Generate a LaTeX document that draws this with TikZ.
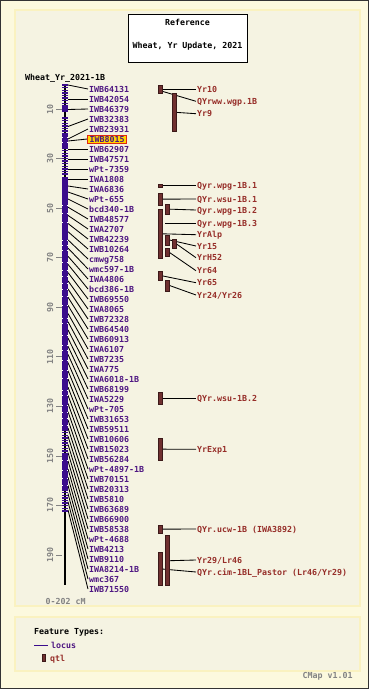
\documentclass[tikz,border=0pt]{standalone}
\usepackage{fontspec}
\newfontfamily\cmapfont{DejaVu Sans Mono Bold}
\definecolor{outerbg}{RGB}{252,249,222}
\definecolor{panelbg}{RGB}{245,243,226}
\definecolor{panelline}{RGB}{250,242,192}
\definecolor{locusbar}{RGB}{58,12,140}
\definecolor{locustext}{RGB}{78,22,130}
\definecolor{qtlfill}{RGB}{112,48,48}
\definecolor{qtlline}{RGB}{60,25,25}
\definecolor{qtltext}{RGB}{150,45,40}
\definecolor{axisgray}{RGB}{130,130,130}
\definecolor{hlfill}{RGB}{255,214,0}
\definecolor{hlline}{RGB}{225,40,20}
\pgfdeclarelayer{background}
\pgfdeclarelayer{links}
\pgfsetlayers{background,links,main}
\tikzset{
  cmap/.style={font=\cmapfont\fontsize{8.3}{9}\selectfont, inner sep=0pt, text height=6pt, text depth=0pt},
  locuslab/.style={cmap, text=locustext, anchor=west, inner xsep=1pt},
  qtllab/.style={cmap, text=qtltext, anchor=west, inner xsep=1pt},
  plainlab/.style={cmap, text=black, anchor=west},
  graylab/.style={cmap, text=axisgray},
  qtlbar/.style={rectangle, fill=qtlfill, draw=qtlline, line width=0.5pt, inner sep=0pt, minimum width=4pt},
  conn/.style={black, line width=0.85pt},
  panel/.style={fill=panelbg, draw=panelline, line width=2pt},
  ltick/.style={locusbar, line width=1.4pt},
  notch/.style={white, line width=0.9pt},
  axtick/.style={axisgray, line width=0.8pt}
}
\begin{document}
\begin{tikzpicture}[x=1pt,y=-1pt]
\useasboundingbox (0,0) rectangle (369,689);
\begin{pgfonlayer}{background}
  \fill[outerbg] (0,0) rectangle (369,689);
  \draw[black!80, line width=1pt] (0.5,0.5) rectangle (368.5,688.5);
  \draw[panel] (15,10) rectangle (360,606);
  \draw[panel] (15,617) rectangle (360,671);
\end{pgfonlayer}

% title
\node[draw=black, fill=white, line width=0.8pt, minimum width=119pt, minimum height=48pt, inner sep=0pt] (titlebox) at (187.5,38) {};
\node[cmap] (title1) at (187.5,22) {Reference};
\node[cmap] (title2) at (187.5,45.5) {Wheat, Yr Update, 2021};
\node[plainlab] (mapname) at (25,77.3) {Wheat\_Yr\_2021-1B};

% axis ticks
\foreach \cm in {10,30,...,190} {
  \pgfmathsetmacro{\ty}{84.5+2.476*\cm}
  \draw[axtick] (56,\ty) -- (62,\ty);
  \node[graylab, rotate=90] (tick\cm) at (50,\ty) {\cm};
}
\node[graylab, anchor=west] (range) at (45.5,601.7) {0-202 cM};

% chromosome backbone
\draw[black, line width=2pt] (65,84.5) -- (65,585);
% dense loci blocks
\fill[locusbar] (62,104.5) rectangle (68,112);
\fill[locusbar] (62,133) rectangle (68,148);
\fill[locusbar] (62,176.5) rectangle (68,430);
\fill[locusbar] (62,453) rectangle (68,490);
\foreach \y in {85,87.6,...,103.5} {\draw[ltick] (62,\y) -- (68,\y);}
\foreach \y in {118,120.6,...,133.5} {\draw[ltick] (62,\y) -- (68,\y);}
\foreach \y in {148,150.6,...,176} {\draw[ltick] (62,\y) -- (68,\y);}
\foreach \y in {430,432.6,...,453} {\draw[ltick] (62,\y) -- (68,\y);}
\foreach \y in {490,492.6,...,512} {\draw[ltick] (62,\y) -- (68,\y);}
\foreach \y in {137,142,205,213,222,240,245,250,262,270,276,283,289,296,305,318,323,335,345,350,360,370,378,390,395,405,412,418,425,460,470,478,485} {
  \draw[notch] (62,\y) -- (63.3,\y);
  \draw[notch] (66.7,\y) -- (68,\y);
}

% locus labels
\foreach \nm [count=\i] in {IWB64131,IWB42054,IWB46379,IWB32383,IWB23931,IWB8015,IWB62907,IWB47571,wPt-7359,IWA1808,IWA6836,wPt-655,bcd340-1B,IWB48577,IWA2707,IWB42239,IWB10264,cmwg758,wmc597-1B,IWA4806,bcd386-1B,IWB69550,IWA8065,IWB72328,IWB64540,IWB60913,IWA6107,IWB7235,IWA775,IWA6018-1B,IWB68199,IWA5229,wPt-705,IWB31653,IWB59511,IWB10606,IWB15023,IWB56284,wPt-4897-1B,IWB70151,IWB20313,IWB5810,IWB63689,IWB66900,IWB58538,wPt-4688,IWB4213,IWB9110,IWA8214-1B,wmc367,IWB71550} {
  \ifnum\i=6
    \node[locuslab, fill=hlfill, draw=hlline, line width=0.7pt, inner xsep=2pt, inner ysep=1pt] (lab\i) at (87.3,79+10*\i) {\nm};
  \else
    \node[locuslab] (lab\i) at (88,79+10*\i) {\nm};
  \fi
}
% locus positions on the bar
\foreach \ly [count=\i] in {85,99,109.5,126.5,139,141,149,159,169,179,186,192,199,207.2,215.4,223.5,231.7,239.9,248.1,256.3,264.4,272.6,280.8,289.0,297.2,305.3,313.5,321.7,329.9,338.1,346.2,354.4,362.6,370.8,379.0,387.1,395.3,403.5,411.7,419.9,428.0,436.2,444.4,452.6,460.8,468.9,477.1,485.3,493.5,501.7,510} {
  \coordinate (lc\i) at (68,\ly);
}
\begin{pgfonlayer}{links}
\foreach \i in {1,...,51} {\draw[conn] (lc\i) -- (lab\i.west);}
\end{pgfonlayer}

% QTL bars
\node[qtlbar, minimum height=8pt] (b1) at (160,89) {};
\node[qtlbar, minimum height=38.7pt] (b3) at (174,112.35) {};
\node[qtlbar, minimum height=3.4pt] (b4) at (160,185.5) {};
\node[qtlbar, minimum height=11.7pt] (b5) at (160,199.15) {};
\node[qtlbar, minimum height=10.3pt] (b6) at (167.3,209.15) {};
\node[qtlbar, minimum height=49pt] (b8) at (160,233.8) {};
\node[qtlbar, minimum height=10pt] (b9) at (167.3,240) {};
\node[qtlbar, minimum height=9pt] (b10) at (174,243.8) {};
\node[qtlbar, minimum height=8.4pt] (b11) at (167.3,252.5) {};
\node[qtlbar, minimum height=9.7pt] (b12) at (160,275.85) {};
\node[qtlbar, minimum height=11pt] (b13) at (167.3,285.5) {};
\node[qtlbar, minimum height=12pt] (b14) at (160,398.3) {};
\node[qtlbar, minimum height=21.7pt] (b15) at (160,449.15) {};
\node[qtlbar, minimum height=8.3pt] (b16) at (160,529.15) {};
\node[qtlbar, minimum height=50pt] (b17) at (167.3,560.7) {};
\node[qtlbar, minimum height=33.4pt] (b18) at (160,569) {};
\coordinate (q2) at (163,91.5);
\coordinate (q7) at (165,223.3);

% QTL labels
\node[qtllab] (t1) at (196,89) {Yr10};
\node[qtllab] (t2) at (196,101.3) {QYrww.wgp.1B};
\node[qtllab] (t3) at (196,113.7) {Yr9};
\node[qtllab] (t4) at (196,185.5) {Qyr.wpg-1B.1};
\node[qtllab] (t5) at (196,199) {QYr.wsu-1B.1};
\node[qtllab] (t6) at (196,210) {Qyr.wpg-1B.2};
\node[qtllab] (t7) at (196,223.3) {Qyr.wpg-1B.3};
\node[qtllab] (t8) at (196,234.7) {YrAlp};
\node[qtllab] (t9) at (196,246) {Yr15};
\node[qtllab] (t10) at (196,257.7) {YrH52};
\node[qtllab] (t11) at (196,270.7) {Yr64};
\node[qtllab] (t12) at (196,282.7) {Yr65};
\node[qtllab] (t13) at (196,295) {Yr24/Yr26};
\node[qtllab] (t14) at (196,398.3) {QYr.wsu-1B.2};
\node[qtllab] (t15) at (196,449.3) {YrExp1};
\node[qtllab] (t16) at (196,529) {QYr.ucw-1B (IWA3892)};
\node[qtllab] (t17) at (196,560) {Yr29/Lr46};
\node[qtllab] (t18) at (196,572) {QYr.cim-1BL\_Pastor (Lr46/Yr29)};

\begin{pgfonlayer}{links}
\draw[conn] (b1.east) -- (t1.west);
\draw[conn] (q2) -- (t2.west);
\draw[conn] (b3.east) -- (t3.west);
\draw[conn] (b4.east) -- (t4.west);
\draw[conn] (b5.east) -- (t5.west);
\draw[conn] (b6.east) -- (t6.west);
\draw[conn] (q7) -- (t7.west);
\draw[conn] (b8.east) -- (t8.west);
\draw[conn] (b9.east) -- (t9.west);
\draw[conn] (b10.east) -- (t10.west);
\draw[conn] (b11.east) -- (t11.west);
\draw[conn] (b12.east) -- (t12.west);
\draw[conn] (b13.east) -- (t13.west);
\draw[conn] (b14.east) -- (t14.west);
\draw[conn] (b15.east) -- (t15.west);
\draw[conn] (b16.east) -- (t16.west);
\draw[conn] (b17.east) -- (t17.west);
\draw[conn] (b18.east) -- (t18.west);
\end{pgfonlayer}

% legend
\node[plainlab] (legtitle) at (34,631.7) {Feature Types:};
\draw[locusbar, line width=1pt] (34,645) -- (47.5,645);
\node[locuslab, inner xsep=0pt] (leglocus) at (51,645) {locus};
\node[qtlbar, minimum width=3.4pt, minimum height=7.7pt] (legqtlbar) at (44,657.85) {};
\node[qtllab, inner xsep=0pt] (legqtl) at (50,658.3) {qtl};
\node[graylab, anchor=east] (version) at (352.7,675) {CMap v1.01};
\end{tikzpicture}
\end{document}
